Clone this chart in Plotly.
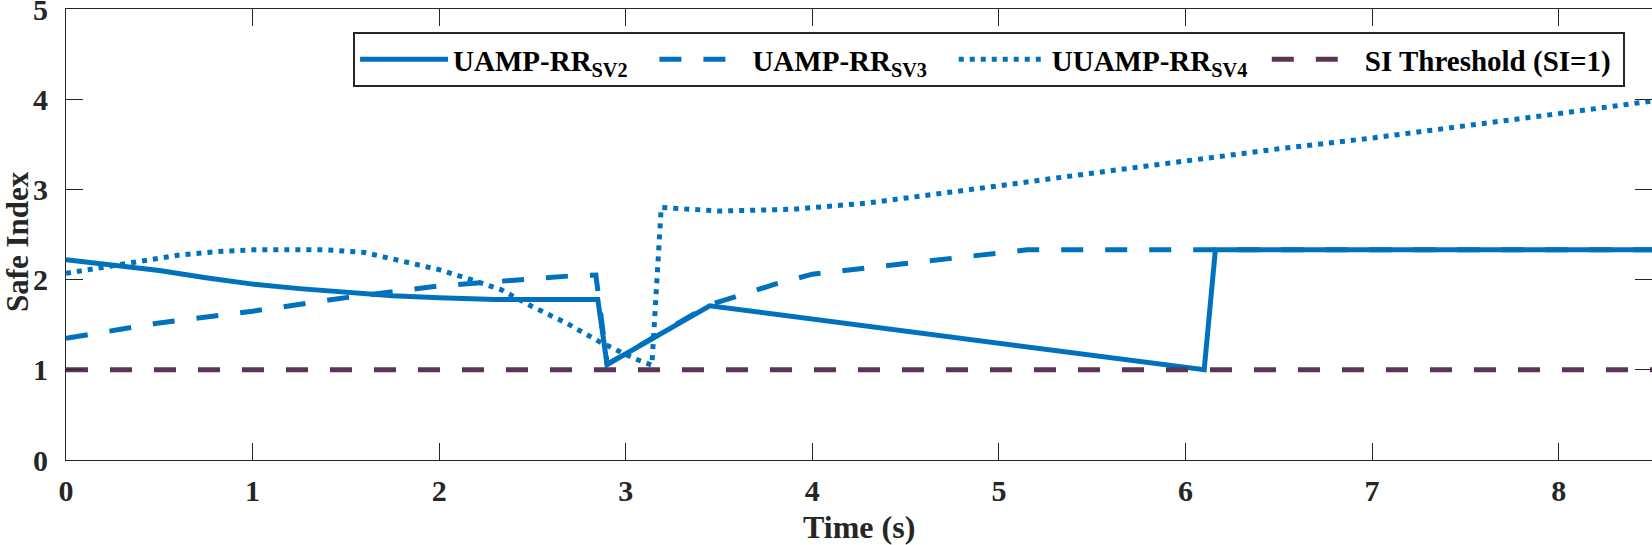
import plotly.graph_objects as go

# ---- data ----
t_sv2 = [0, 0.25, 0.5, 0.75, 1.0, 1.25, 1.5, 1.75, 2.0, 2.3, 2.6, 2.85, 2.90, 3.45, 6.10, 6.16, 8.5]
v_sv2 = [2.22, 2.16, 2.10, 2.02, 1.95, 1.90, 1.86, 1.82, 1.80, 1.78, 1.78, 1.78, 1.06, 1.71, 1.00, 2.33, 2.33]

t_sv3 = [0, 0.5, 1.0, 1.5, 2.0, 2.3, 2.7, 2.84, 2.90, 3.45, 3.6, 3.8, 4.0, 4.3, 4.65, 5.0, 5.15, 8.5]
v_sv3 = [1.35, 1.52, 1.65, 1.80, 1.93, 1.98, 2.04, 2.05, 1.06, 1.72, 1.82, 1.95, 2.06, 2.13, 2.21, 2.30, 2.33, 2.33]

t_sv4 = [0, 0.3, 0.6, 0.8, 1.0, 1.2, 1.4, 1.6, 1.8, 2.0, 2.2, 2.33, 2.5, 2.68, 2.86, 3.04, 3.14, 3.19,
         3.5, 3.9, 4.3, 4.65, 5.0, 5.5, 6.0, 6.5, 7.0, 7.5, 8.0, 8.5]
v_sv4 = [2.07, 2.17, 2.27, 2.31, 2.33, 2.33, 2.33, 2.30, 2.20, 2.11, 1.98, 1.89, 1.70, 1.52, 1.31, 1.13, 1.05, 2.80,
         2.76, 2.78, 2.85, 2.94, 3.04, 3.18, 3.32, 3.45, 3.57, 3.70, 3.84, 3.98]

t_thr = [0, 8.5]
v_thr = [1, 1]

NB = "\u00a0"
names = ["UAMP-RR<sub>SV2</sub>" + NB * 3,
         "UAMP-RR<sub>SV3</sub>" + NB * 3,
         "UUAMP-RR<sub>SV4</sub>" + NB * 2,
         "SI Threshold (SI=1)" + NB]
x_title = "Time (s)"
y_title = "Safe Index"
x_ticks = [0, 1, 2, 3, 4, 5, 6, 7, 8]
y_ticks = [0, 1, 2, 3, 4, 5]

BLUE = "#0072BD"
PURPLE = "#5A3557"
AX = "#262626"
FONT = "Liberation Serif, Times New Roman, serif"

fig = go.Figure()
fig.add_trace(go.Scatter(x=t_sv2, y=v_sv2, mode="lines", name=names[0],
                         line=dict(color=BLUE, width=5, dash="solid")))
fig.add_trace(go.Scatter(x=t_sv3, y=v_sv3, mode="lines", name=names[1],
                         line=dict(color=BLUE, width=5, dash="22px,22px")))
fig.add_trace(go.Scatter(x=t_sv4, y=v_sv4, mode="lines", name=names[2],
                         line=dict(color=BLUE, width=5, dash="5px,6px")))
fig.add_trace(go.Scatter(x=t_thr, y=v_thr, mode="lines", name=names[3],
                         line=dict(color=PURPLE, width=5, dash="22px,22px")))

fig.update_layout(
    width=1652, height=545,
    margin=dict(l=66, r=0, t=9, b=85, autoexpand=False),
    plot_bgcolor="white", paper_bgcolor="white",
    font=dict(family=FONT, color=AX, size=30, weight="bold"),
    showlegend=True,
    legend=dict(
        orientation="h", x=0.181, xanchor="left", y=0.949, yanchor="top",
        bgcolor="white", bordercolor=AX, borderwidth=2,
        font=dict(family=FONT, size=29, color="black", weight="bold"),
        itemwidth=88,
    ),
    annotations=[
        dict(text=x_title, xref="paper", yref="paper", x=0.5, y=-0.148,
             xanchor="center", yanchor="middle", showarrow=False,
             font=dict(family=FONT, size=32, color=AX, weight="bold")),
        dict(text=y_title, xref="paper", yref="paper", x=-0.031, y=0.485,
             xanchor="center", yanchor="middle", showarrow=False, textangle=-90,
             font=dict(family=FONT, size=31, color=AX, weight="bold")),
    ],
)
fig.update_xaxes(
    range=[0, 8.5], tickvals=x_ticks, ticktext=[str(v) for v in x_ticks],
    ticks="inside", ticklen=17, tickwidth=1.2, tickcolor=AX,
    showline=True, linecolor=AX, linewidth=1.2, mirror="ticks",
    showgrid=False, zeroline=False, automargin=False,
    tickfont=dict(family=FONT, size=30, color=AX, weight="bold"),
    ticklabelstandoff=4,
)
fig.update_yaxes(
    range=[0, 5], tickvals=y_ticks, ticktext=[str(v) for v in y_ticks],
    ticks="inside", ticklen=17, tickwidth=1.2, tickcolor=AX,
    showline=True, linecolor=AX, linewidth=1.2, mirror="ticks",
    showgrid=False, zeroline=False, automargin=False,
    tickfont=dict(family=FONT, size=30, color=AX, weight="bold"),
    ticklabelstandoff=11, ticklabeloverflow="allow",
)

# remove the browser's default 8px body margin so the figure fills the window; hide the modebar
fig.write_html("out.html", config={"displayModeBar": False},
               post_script="document.body.style.margin='0';")
